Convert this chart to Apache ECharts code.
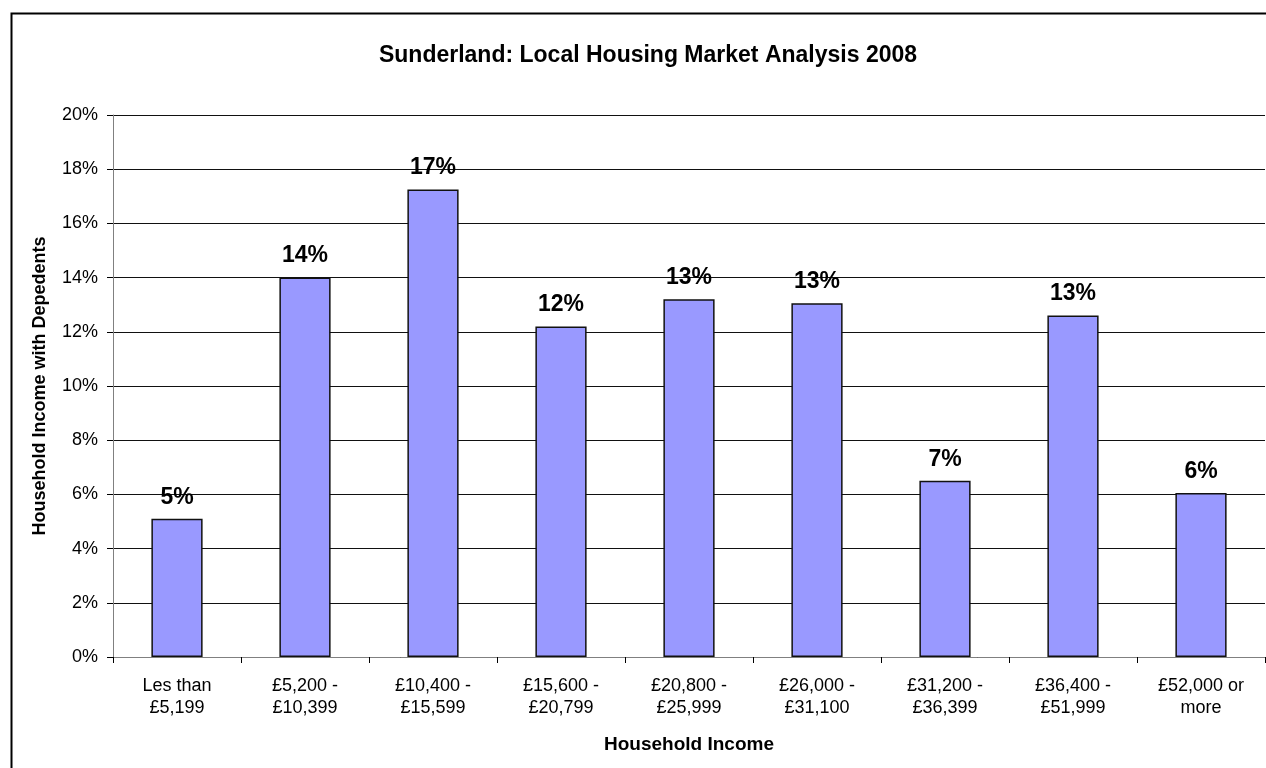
<!DOCTYPE html>
<html>
<head>
<meta charset="utf-8">
<script src="https://cdn.jsdelivr.net/npm/echarts@6/dist/echarts.min.js"></script>
<style>
html,body{margin:0;padding:0;background:#fff;}
#chart{width:1266px;height:768px;}
</style>
</head>
<body>
<div id="chart"></div>
<script>
const categories = ["Les than\n£5,199", "£5,200 -\n£10,399", "£10,400 -\n£15,599", "£15,600 -\n£20,799", "£20,800 -\n£25,999", "£26,000 -\n£31,100", "£31,200 -\n£36,399", "£36,400 -\n£51,999", "£52,000 or\nmore"];
const values = [5.1, 14.0, 17.25, 12.2, 13.2, 13.05, 6.5, 12.6, 6.05];
const chartTitle = "Sunderland: Local Housing Market Analysis 2008";
const xName = "Household Income";
const yName = "Household Income with Depedents";

const chart = echarts.init(document.getElementById('chart'));
const font = "'Liberation Sans', Arial, sans-serif";
chart.setOption({
  animation: false,
  backgroundColor: '#fff',
  graphic: [{
    type: 'rect', left: 9, top: 11, z: -1,
    shape: { width: 1300, height: 800 },
    style: { fill: 'none', stroke: '#000', lineWidth: 2 }
  }],
  title: {
    text: chartTitle, left: 643, top: 39, textAlign: 'center',
    textStyle: { fontFamily: font, fontSize: 23, fontWeight: 'bold', color: '#000' }
  },
  grid: { left: 113, right: 1, top: 115, bottom: 111, containLabel: false },
  xAxis: {
    type: 'category', data: categories,
    name: xName, nameLocation: 'middle', nameGap: 78,
    nameTextStyle: { fontFamily: font, fontSize: 19, fontWeight: 'bold', color: '#000' },
    axisLine: { lineStyle: { color: '#808080', width: 1 } },
    axisTick: { show: true, length: 6, lineStyle: { color: '#000' } },
    axisLabel: { fontFamily: font, fontSize: 18, color: '#000', margin: 18, lineHeight: 22, interval: 0 }
  },
  yAxis: {
    type: 'value', min: 0, max: 20, interval: 2,
    name: yName, nameLocation: 'middle', nameGap: 64, nameRotate: 90,
    nameTextStyle: { fontFamily: font, fontSize: 18, fontWeight: 'bold', color: '#000' },
    axisLine: { show: true, lineStyle: { color: '#808080', width: 1 } },
    axisTick: { show: true, length: 6, lineStyle: { color: '#000' } },
    axisLabel: { fontFamily: font, fontSize: 18, color: '#000', margin: 15, formatter: v => v + '%' },
    splitLine: { show: true, lineStyle: { color: '#111', width: 1 } }
  },
  series: [{
    type: 'bar', data: values, barWidth: '40%',
    itemStyle: { color: '#9999FF', borderColor: '#111', borderWidth: 1.5 },
    label: {
      show: true, position: 'top', distance: 10,
      fontFamily: font, fontSize: 23, fontWeight: 'bold', color: '#000',
      formatter: p => Math.round(p.value) + '%'
    }
  }]
});
</script>
</body>
</html>
